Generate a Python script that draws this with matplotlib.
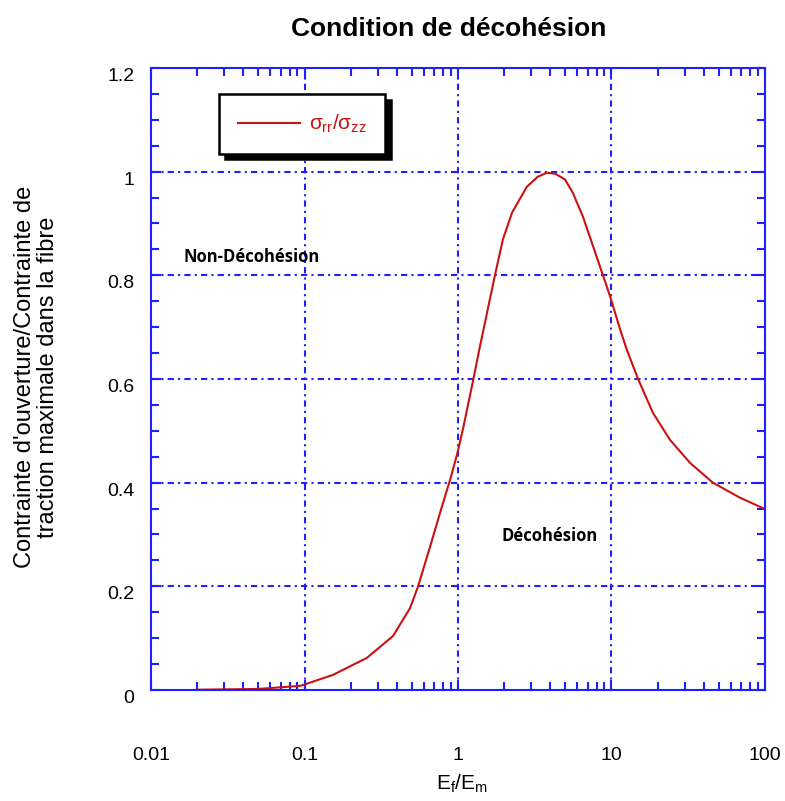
import numpy as np
import matplotlib.pyplot as plt
from matplotlib.ticker import LogLocator, MultipleLocator, NullFormatter

# values
ratio_e = [0.02, 0.05, 0.094, 0.153, 0.255, 0.377, 0.487, 0.548, 0.657, 0.764,
           0.887, 0.985, 1.08, 1.25, 1.39, 1.74, 1.96, 2.25, 2.81, 3.3, 3.8, 4.3,
           4.98, 5.6, 6.52, 8.8, 9.78, 11.4, 12.6, 14.9, 18.6, 24.0, 32.5, 45.8,
           68.7, 100.0]
sigma_ratio = [0.0005, 0.002, 0.008, 0.029, 0.062, 0.104, 0.158, 0.199, 0.276, 0.342,
               0.405, 0.454, 0.505, 0.595, 0.663, 0.80, 0.869, 0.921, 0.971, 0.99,
               0.998, 0.996, 0.985, 0.959, 0.913, 0.80, 0.76, 0.695, 0.656, 0.60,
               0.535, 0.483, 0.438, 0.400, 0.371, 0.349]

xticks = [0.01, 0.1, 1, 10, 100]
xticklabels = ['0.01', '0.1', '1', '10', '100']
yticks = [0, 0.2, 0.4, 0.6, 0.8, 1.0, 1.2]
yticklabels = ['0', '0.2', '0.4', '0.6', '0.8', '1', '1.2']

BLUE = '#1f1fff'
RED = '#cc1111'

plt.rcParams['font.family'] = ['Liberation Sans', 'DejaVu Sans']
plt.rcParams['mathtext.fontset'] = 'custom'
plt.rcParams['mathtext.rm'] = 'Liberation Sans'
plt.rcParams['mathtext.it'] = 'Liberation Sans'

fig = plt.figure(figsize=(7.85, 8.01), dpi=100)
ax = fig.add_axes([0.1924, 0.1386, 0.7821, 0.7765])

ax.plot(ratio_e, sigma_ratio, color=RED, lw=1.5, label=r'$\sigma_{rr}/\sigma_{zz}$')

ax.set_xscale('log')
ax.set_xlim(0.01, 100)
ax.set_ylim(0, 1.2)

ax.set_xticks(xticks)
ax.set_xticklabels(xticklabels, fontsize=14)
ax.xaxis.set_minor_locator(LogLocator(base=10, subs=np.arange(2, 10)))
ax.xaxis.set_minor_formatter(NullFormatter())
ax.set_yticks(yticks)
ax.set_yticklabels(yticklabels, fontsize=14, va='top')
ax.yaxis.set_minor_locator(MultipleLocator(0.05))

ax.tick_params(which='both', direction='in', top=True, right=True, color=BLUE, width=1.5)
ax.tick_params(which='major', length=7)
ax.tick_params(which='minor', length=6)
ax.tick_params(axis='x', which='major', pad=41)
ax.tick_params(axis='y', which='major', pad=12)

for s in ax.spines.values():
    s.set_color(BLUE)
    s.set_linewidth(1.5)

# grid only on the inner major lines
for gx in [0.1, 1, 10]:
    ax.axvline(gx, color=BLUE, lw=1.5, ls=(0, (3, 2, 1, 2)), zorder=0)
for gy in [0.2, 0.4, 0.6, 0.8, 1.0]:
    ax.axhline(gy, color=BLUE, lw=1.5, ls=(0, (3, 2, 1, 2)), zorder=0)

leg = ax.legend(loc='upper left', bbox_to_anchor=(0.111, 0.958), borderaxespad=0,
                fancybox=False,
                shadow={'color': 'black', 'alpha': 1, 'ox': 4, 'oy': -4},
                framealpha=1, edgecolor='black', labelcolor=RED, fontsize=15,
                handlelength=3.0, borderpad=0.9, handletextpad=0.4)
leg.get_frame().set_linewidth(1.8)

ax.text(0.0455, 0.836, 'Non-Décohésion', fontsize=12, fontweight='bold',
        family='Open Sans', ha='center', va='center')
ax.text(3.97, 0.297, 'Décohésion', fontsize=12, fontweight='bold',
        family='Open Sans', ha='center', va='center')

fig.text(0.571, 0.964, 'Condition de décohésion', fontsize=19, fontweight='bold',
         ha='center', va='center')
fig.text(0.589, 0.022, r'E$_f$/E$_m$', fontsize=15, ha='center', va='center')
fig.text(0.046, 0.529, "Contrainte d'ouverture/Contrainte de\ntraction maximale dans la fibre",
         fontsize=17, rotation=90, ha='center', va='center', multialignment='center',
         linespacing=1.05)

fig.savefig('out.png', dpi=100)
